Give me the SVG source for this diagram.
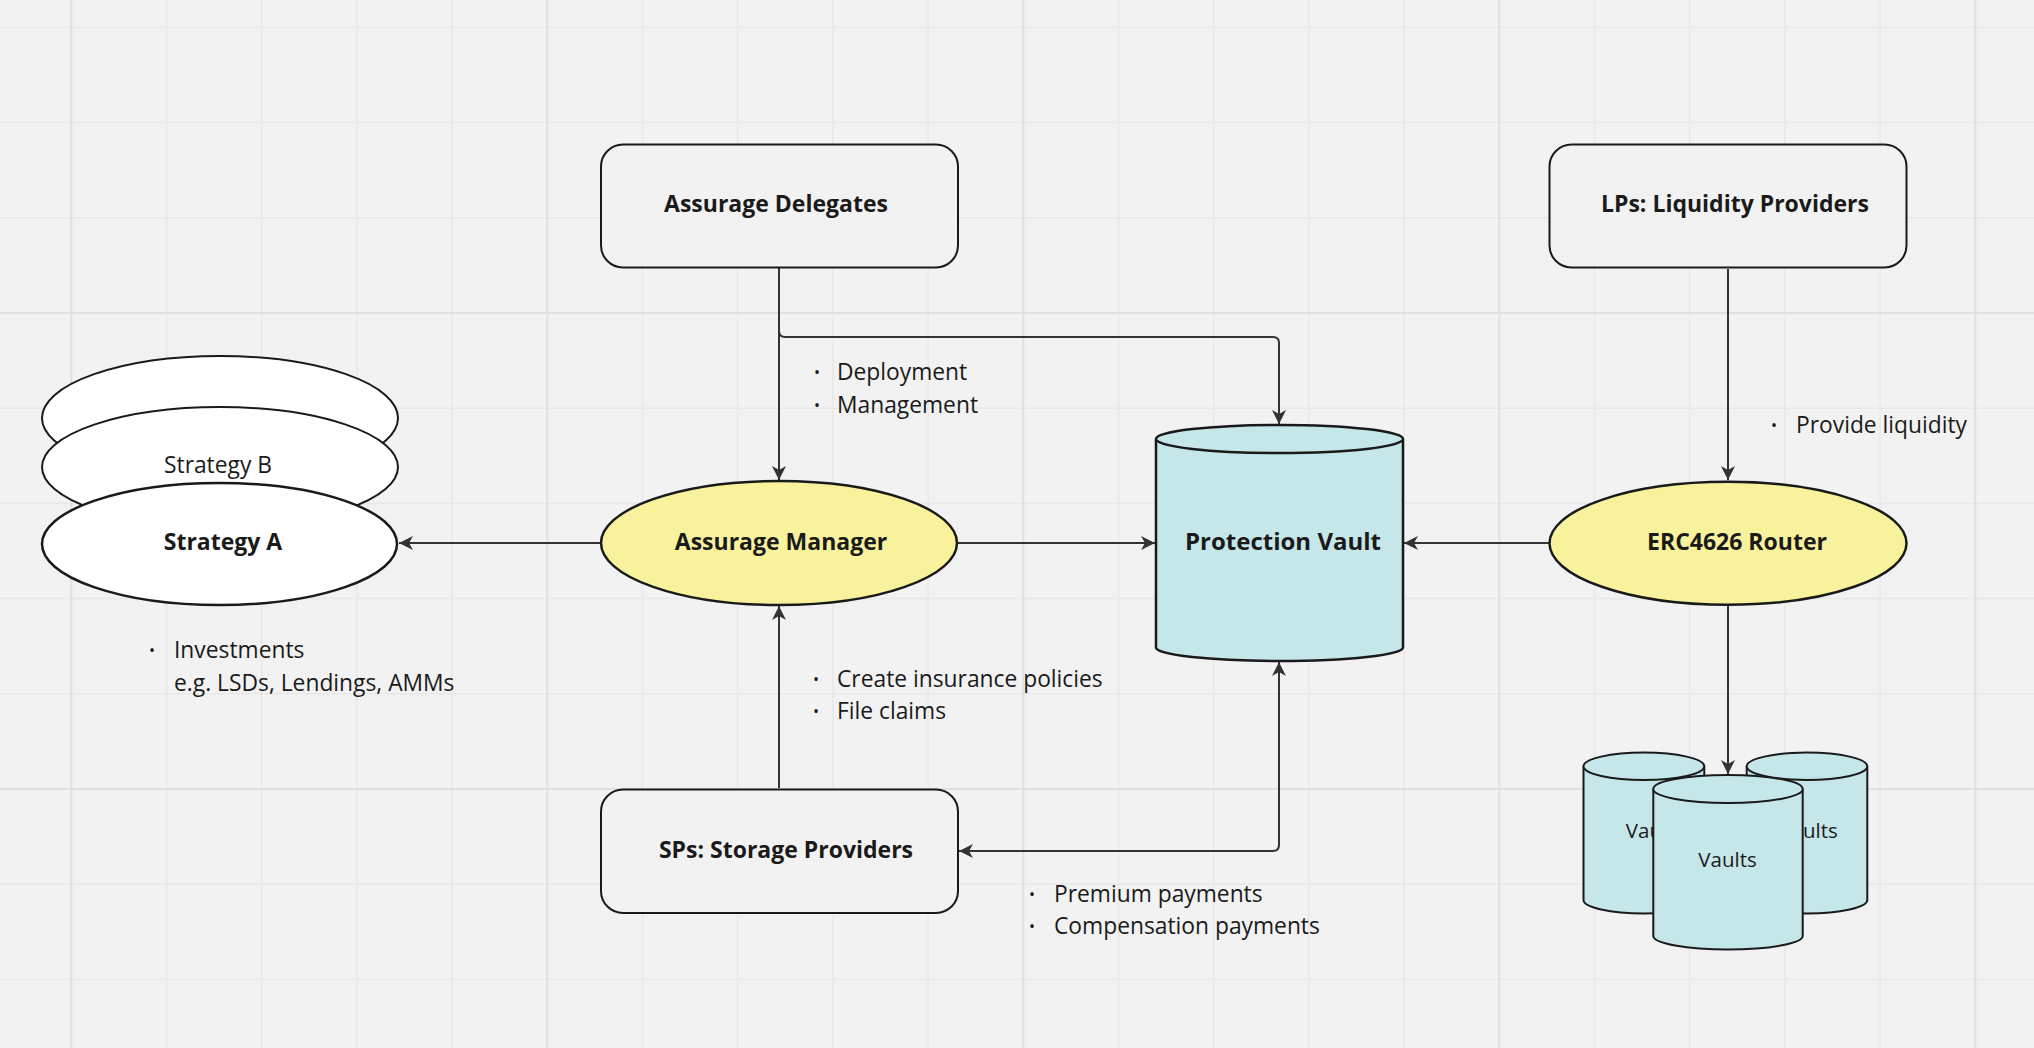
<svg xmlns="http://www.w3.org/2000/svg" width="2034" height="1048" viewBox="0 0 2034 1048">
<defs>
<style>
.lbl{font-family:"Open Sans","Noto Sans",sans-serif;font-weight:700;font-size:23px;fill:#1a1a1a;text-anchor:middle}
.txt{font-family:"Open Sans","Noto Sans",sans-serif;font-weight:400;font-size:22.8px;fill:#1a1a1a}
.mid{text-anchor:middle}
.bul{font-family:"Open Sans","Noto Sans",sans-serif;font-size:16px;fill:#1a1a1a;text-anchor:middle}
.box{fill:#f2f2f2;stroke:#1a1a1a;stroke-width:2}
.yel{fill:#f7f29b;stroke:#1a1a1a;stroke-width:2.5}
.wht{fill:#ffffff;stroke:#1a1a1a;stroke-width:2}
.cyl{fill:#c5e7ea;stroke:#1a1a1a;stroke-width:2.5}
.cyl2{fill:#c5e7ea;stroke:#1a1a1a;stroke-width:2}
.con{fill:none;stroke:#333333;stroke-width:2}
.gmin{stroke:#e8e8e8;stroke-width:1.5;fill:none}
.gmaj{stroke:#e0e0e0;stroke-width:2;fill:none}
</style>
<marker id="arr" markerUnits="userSpaceOnUse" markerWidth="16" markerHeight="16" viewBox="0 0 16 16" refX="15" refY="8" orient="auto-start-reverse">
<path d="M1,1 L15,8 L1,15 L5,8 z" fill="#333333"/>
</marker>
</defs>
<rect x="0" y="0" width="2034" height="1048" fill="#f2f2f2"/>
<g id="grid">
<path class="gmin" d="M166.5,0V1048M261.7,0V1048M356.9,0V1048M452.1,0V1048M642.5,0V1048M737.7,0V1048M832.9,0V1048M928.1,0V1048M1118.5,0V1048M1213.7,0V1048M1308.9,0V1048M1404.1,0V1048M1594.5,0V1048M1689.7,0V1048M1784.9,0V1048M1880.1,0V1048M0,27.4H2034M0,122.6H2034M0,217.8H2034M0,408.2H2034M0,503.4H2034M0,598.6H2034M0,693.8H2034M0,884.2H2034M0,979.4H2034"/>
<path class="gmaj" d="M71.3,0V1048M547.3,0V1048M1023.3,0V1048M1499.3,0V1048M1975.3,0V1048M0,313H2034M0,789H2034"/>
</g>
<g id="connectors">
<path class="con" d="M779,268V480" marker-end="url(#arr)"/>
<path class="con" d="M779,268V331Q779,337 785,337H1273Q1279,337 1279,343V424" marker-end="url(#arr)"/>
<path class="con" d="M600,543H399" marker-end="url(#arr)"/>
<path class="con" d="M958,543H1155" marker-end="url(#arr)"/>
<path class="con" d="M1550,543H1404" marker-end="url(#arr)"/>
<path class="con" d="M1728,269V480" marker-end="url(#arr)"/>
<path class="con" d="M1728,606V774" marker-end="url(#arr)"/>
<path class="con" d="M779,788V606" marker-end="url(#arr)"/>
<path class="con" d="M959,851H1273Q1279,851 1279,845V662" marker-start="url(#arr)" marker-end="url(#arr)"/>
</g>
<g id="assurage-delegates">
<rect class="box" x="601" y="144.5" width="357" height="123" rx="22"/>
<text class="lbl" x="776" y="212">Assurage Delegates</text>
</g>
<g id="lps">
<rect class="box" x="1549.5" y="144.5" width="357" height="123" rx="22"/>
<text class="lbl" x="1735" y="212">LPs: Liquidity Providers</text>
</g>
<g id="sps">
<rect class="box" x="601" y="789.5" width="357" height="123.5" rx="22"/>
<text class="lbl" x="786" y="858">SPs: Storage Providers</text>
</g>
<g id="strategies">
<ellipse class="wht" cx="220" cy="418" rx="178" ry="62"/>
<ellipse class="wht" cx="220" cy="467" rx="178" ry="60"/>
<text class="txt" x="164" y="473">Strategy B</text>
<ellipse class="wht" cx="219.5" cy="544" rx="177.5" ry="61" style="stroke-width:2.5"/>
<text class="lbl" x="223" y="550">Strategy A</text>
</g>
<g id="assurage-manager">
<ellipse class="yel" cx="779" cy="543" rx="178" ry="62"/>
<text class="lbl" x="781" y="550">Assurage Manager</text>
</g>
<g id="erc4626-router">
<ellipse class="yel" cx="1728" cy="543.3" rx="178.5" ry="61.5"/>
<text class="lbl" x="1737" y="550">ERC4626 Router</text>
</g>
<g id="protection-vault">
<path class="cyl" d="M1156,439V647.5A123.5,13.5 0 0 0 1403,647.5V439"/>
<ellipse class="cyl" cx="1279.5" cy="439" rx="123.5" ry="14"/>
<text class="lbl" x="1283" y="550" style="font-size:24px">Protection Vault</text>
</g>
<g id="vaults">
<path class="cyl2" d="M1583.5,766.3V900A60.4,13.5 0 0 0 1704.3,900V766.3"/>
<ellipse class="cyl2" cx="1643.9" cy="766.3" rx="60.4" ry="13.7"/>
<text class="txt mid" x="1655" y="838" style="font-size:20.5px">Vaults</text>
<path class="cyl2" d="M1746.7,766.3V900A60.3,13.5 0 0 0 1867.3,900V766.3"/>
<ellipse class="cyl2" cx="1807" cy="766.3" rx="60.3" ry="13.7"/>
<text class="txt mid" x="1808.5" y="838" style="font-size:20.5px">Vaults</text>
<path class="cyl2" d="M1653.3,789V936A74.7,13.5 0 0 0 1802.7,936V789"/>
<ellipse class="cyl2" cx="1728" cy="789" rx="74.7" ry="14"/>
<text class="txt mid" x="1727.5" y="866.5" style="font-size:20.5px">Vaults</text>
</g>
<g id="labels">
<text class="bul" x="817" y="378">•</text>
<text class="txt" x="837" y="380">Deployment</text>
<text class="bul" x="817" y="411">•</text>
<text class="txt" x="837" y="413">Management</text>
<text class="bul" x="1774" y="431">•</text>
<text class="txt" x="1796" y="433">Provide liquidity</text>
<text class="bul" x="152" y="656">•</text>
<text class="txt" x="174" y="658">Investments</text>
<text class="txt" x="174" y="691">e.g. LSDs, Lendings, AMMs</text>
<text class="bul" x="816" y="685">•</text>
<text class="txt" x="837" y="687">Create insurance policies</text>
<text class="bul" x="816" y="717">•</text>
<text class="txt" x="837" y="719">File claims</text>
<text class="bul" x="1032" y="900">•</text>
<text class="txt" x="1054" y="902">Premium payments</text>
<text class="bul" x="1032" y="932">•</text>
<text class="txt" x="1054" y="934">Compensation payments</text>
</g>
</svg>
